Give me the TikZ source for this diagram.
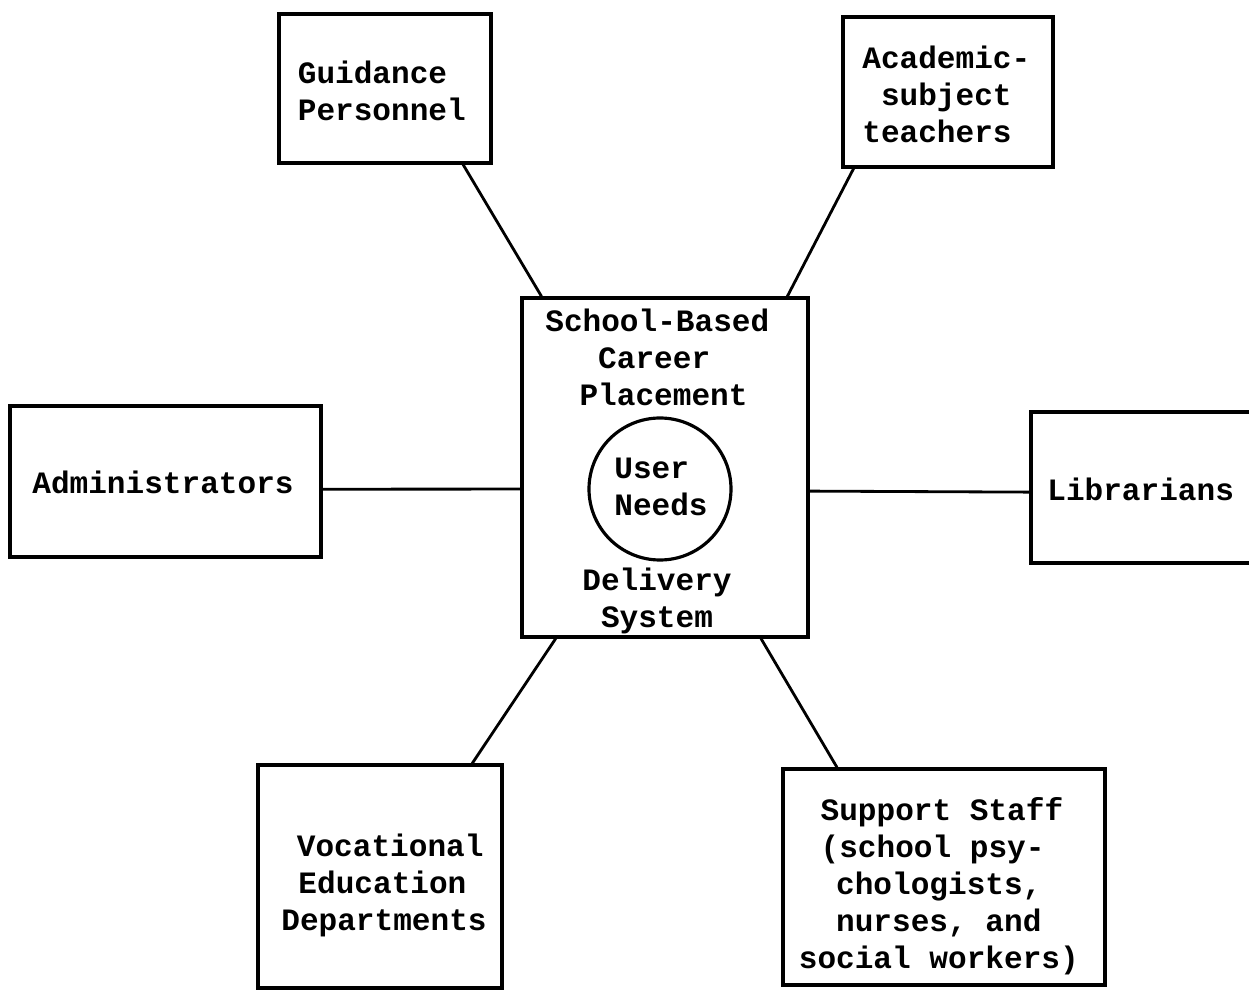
\documentclass[tikz,border=0pt]{standalone}
\usepackage{fontspec}
\newfontfamily\typewriter{Liberation Mono}
\usetikzlibrary{calc}
\tikzset{
  tw/.style={font=\typewriter\bfseries\fontsize{17.7}{21}\selectfont},
  frame/.style 2 args={draw, line width=1.8pt, inner sep=0pt,
    minimum width={#1*0.02cm}, minimum height={#2*0.02cm}},
  link/.style={line width=1.6pt},
  label/.style={tw, inner sep=0pt, align=left, anchor=west},
}
\begin{document}
\begin{tikzpicture}[x=0.02cm, y=-0.02cm]
  \useasboundingbox (0,0) rectangle (1249,993);

  % central delivery system
  \node[frame={286}{339}] (sys) at (665,467.5) {};
  \node[label] (title) at (545,357) {School-Based\\\hspace*{1.7em}Career\\\hspace*{1.1em}Placement};
  \node[draw, circle, line width=1.8pt, minimum size={142*0.02cm}, inner sep=0pt] (needs) at (660,489) {};
  \node[label] (needstxt) at (614,487) {User\\Needs};
  \node[label, align=center, anchor=center] (deliv) at (657,601) {Delivery\\System};

  % surrounding groups
  \node[frame={212}{149}] (guid) at (385,88.5) {};
  \node[label] (guidtxt) at (297.5,90.5) {Guidance\\Personnel};
  \node[frame={210}{150}] (acad) at (948,92) {};
  \node[label] (acadtxt) at (862,94.5) {Academic-\\\hspace*{0.6em}subject\\teachers};
  \node[frame={311}{151}] (adm) at (165.5,481.5) {};
  \node[label] (admtxt) at (32,482.5) {Administrators};
  \node[frame={229}{151}] (lib) at (1145.5,487.5) {};
  \node[label] (libtxt) at (1047,489.5) {Librarians};
  \node[frame={244}{223}] (voc) at (380,876.5) {};
  \node[label] (voctxt) at (281,885.5) {\hspace*{0.5em}Vocational\\\hspace*{0.55em}Education\\Departments};
  \node[frame={322}{216}] (supp) at (944,877) {};
  \node[label] (supptxt) at (798.5,886) {\hspace*{0.7em}Support Staff\\\hspace*{0.7em}(school psy-\\\hspace*{1.2em}chologists,\\\hspace*{1.2em}nurses, and\\social workers)};

  % connectors
  \draw[link] ($(guid.south west)!0.863!(guid.south east)$) -- ($(sys.north west)!0.073!(sys.north east)$);
  \draw[link] ($(acad.south west)!0.057!(acad.south east)$) -- ($(sys.north west)!0.923!(sys.north east)$);
  \draw[link] ($(adm.north east)!0.55!(adm.south east)$) -- ($(sys.north west)!0.563!(sys.south west)$);
  \draw[link] ($(sys.north east)!0.569!(sys.south east)$) -- ($(lib.north west)!0.53!(lib.south west)$);
  \draw[link] ($(sys.south west)!0.122!(sys.south east)$) -- ($(voc.north west)!0.873!(voc.north east)$);
  \draw[link] ($(sys.south west)!0.832!(sys.south east)$) -- ($(supp.north west)!0.171!(supp.north east)$);
\end{tikzpicture}
\end{document}
